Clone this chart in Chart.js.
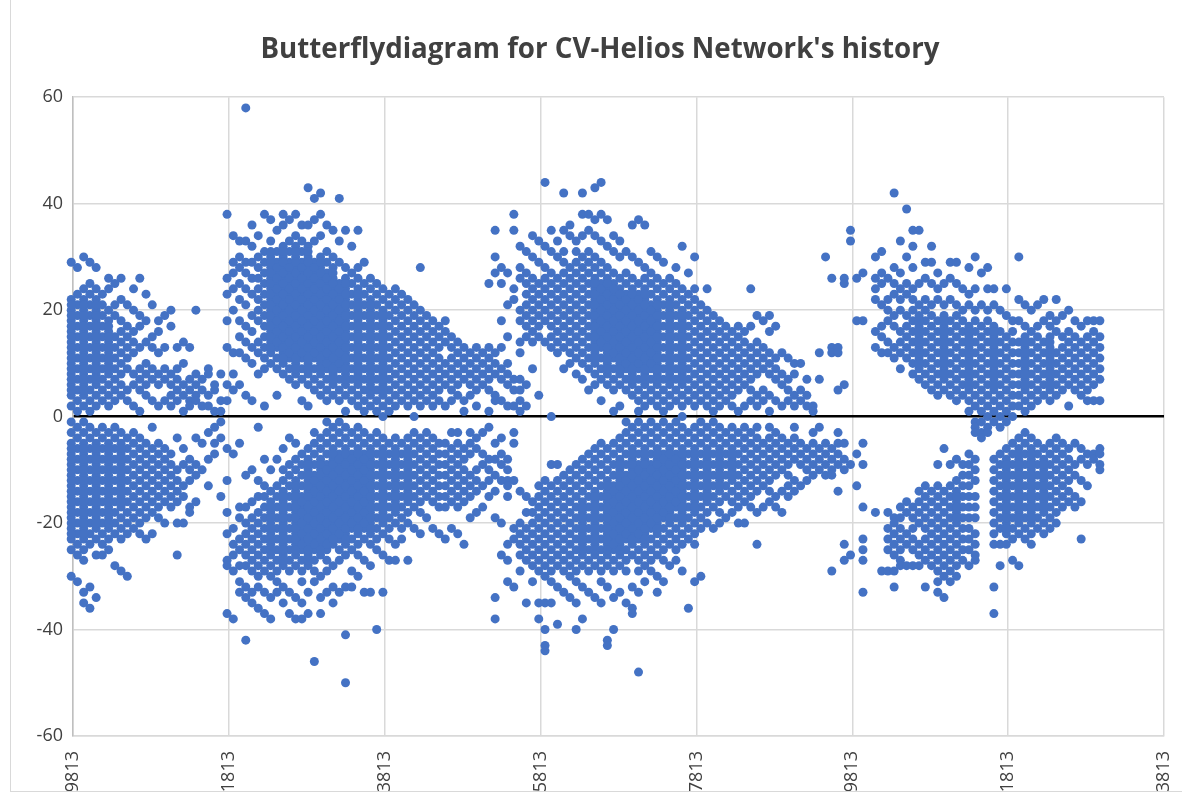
<!DOCTYPE html>
<html>
<head>
<meta charset="utf-8">
<script src="https://cdn.jsdelivr.net/npm/chart.js@4"></script>
<style>
  html, body { margin: 0; padding: 0; background: #fff; overflow: hidden; }
  #frame { position: absolute; left: 10px; top: 0; width: 1171px; height: 791px; border: 1px solid #d9d9d9; border-top: 0; }
  #chart { position: absolute; left: 0; top: 0; }
</style>
</head>
<body>
<div id="frame"></div>
<canvas id="chart" width="1182" height="791"></canvas>
<script>
const titleText = "Butterflydiagram for CV-Helios Network's history";
const xTicks = [19813, 21813, 23813, 25813, 27813, 29813, 31813, 33813];

const cycle1North = [
  [19790,29,22,20,18,16,14,12,10,8,6,4,2],
  [19870,28,23,21,19,17,15,13,11,9,7,5,3,1],
  [19950,30,24,22,20,18,16,14,12,10,8,6,4,2],
  [20030,29,25,23,21,19,17,15,13,11,9,7,5,3,1],
  [20110,28,24,22,20,18,16,14,12,10,8,6,4,2],
  [20190,23,21,19,17,15,13,11,9,7,5,3],
  [20270,26,24,20,18,16,14,12,10,8,6,4,2],
  [20350,25,21,19,15,13,11,9,7,5,3],
  [20430,26,22,18,16,14,12,10,8,6,4],
  [20510,21,17,15,13,11,9,5,3],
  [20590,24,20,16,14,12,8,6,2],
  [20670,26,19,17,13,9,7,5,1],
  [20750,23,18,14,10,8,6,4],
  [20830,21,15,13,9,7,3],
  [20910,18,16,12,8,6,2],
  [20990,19,13,9,7,3],
  [21070,20,17,8,6,4,2],
  [21150,13,9,7,5,3],
  [21230,14,10,6,4,1],
  [21310,13,7,5,3,2],
  [21390,20,8,6,4,3],
  [21470,7,5,2],
  [21550,9,8,4,2],
  [21630,6,5,1],
  [21710,8,3,1]
];
const cycle1South = [
  [19790,-1,-3,-5,-7,-9,-11,-13,-15,-17,-19,-21,-23,-25,-30],
  [19870,-2,-4,-6,-8,-10,-12,-14,-16,-18,-20,-22,-24,-26,-31],
  [19950,-1,-3,-5,-7,-9,-11,-13,-15,-17,-19,-21,-23,-25,-27,-33,-35],
  [20030,-2,-4,-6,-8,-10,-12,-14,-16,-18,-20,-22,-24,-32,-36],
  [20110,-3,-5,-7,-9,-11,-13,-15,-17,-19,-21,-23,-26,-34],
  [20190,-2,-4,-6,-8,-10,-12,-14,-16,-18,-20,-22,-24,-26],
  [20270,-3,-5,-7,-9,-11,-13,-15,-17,-19,-21,-23,-25],
  [20350,-2,-4,-6,-8,-10,-12,-14,-16,-18,-20,-22,-28],
  [20430,-3,-5,-7,-9,-11,-13,-15,-17,-19,-21,-23,-29],
  [20510,-4,-6,-8,-10,-12,-14,-16,-18,-20,-22,-30],
  [20590,-3,-5,-7,-9,-11,-13,-15,-17,-19,-21],
  [20670,-4,-6,-8,-10,-12,-14,-16,-18,-20,-22],
  [20750,-5,-7,-9,-11,-13,-15,-17,-19,-23],
  [20830,-2,-6,-8,-10,-12,-14,-16,-18,-22],
  [20910,-5,-7,-9,-11,-13,-15,-17,-19],
  [20990,-6,-8,-10,-12,-14,-16,-20],
  [21070,-7,-9,-11,-13,-15,-17],
  [21150,-4,-10,-12,-14,-16,-20,-26],
  [21230,-6,-9,-13,-15,-20],
  [21310,-8,-10,-12,-17,-18],
  [21390,-4,-9,-11,-16],
  [21470,-5,-10],
  [21550,-3,-8,-13],
  [21630,-2,-5,-7],
  [21710,-1,-4,-15]
];

const cycle2North = [
  [21790,38,26,23,18,13,6,3],
  [21870,34,29,27,24,20,12,8,5],
  [21950,33,30,28,25,22,18,15,12,6],
  [22030,58,33,29,27,24,21,17,14,11,4],
  [22110,36,32,29,26,23,19,16,13,10,3],
  [22190,34,30,28,26,24,22,20,18,14,12,8],
  [22270,38,31,29,27,25,23,21,19,17,15,13,11,9,2],
  [22350,37,33,30,28,26,24,22,20,18,16,14,12,10],
  [22430,35,31,29,27,25,23,21,19,17,15,13,11,9,4],
  [22510,38,36,32,30,28,26,24,22,20,18,16,14,12,10,8],
  [22590,37,33,31,29,27,25,23,21,19,17,15,13,11,9,7],
  [22670,38,34,32,30,28,26,24,22,20,18,16,14,12,10,8,6],
  [22750,36,33,31,29,27,25,23,21,19,17,15,13,11,9,7,3],
  [22830,43,36,32,30,28,26,24,22,20,18,16,14,12,10,8,6,2],
  [22910,41,37,33,29,27,25,23,21,19,17,15,13,11,9,7,5],
  [22990,42,38,34,30,28,26,24,22,20,18,16,14,12,10,8,6,4],
  [23070,36,31,29,27,25,23,21,19,17,15,13,11,9,7,5,3],
  [23150,35,30,28,26,24,22,20,18,16,14,12,10,8,6,4],
  [23230,41,33,29,25,23,21,19,17,15,13,11,9,7,5,3],
  [23310,35,28,26,24,22,20,18,16,14,12,10,8,6,4,1],
  [23390,32,27,25,23,21,19,17,15,13,11,9,7,5,3],
  [23470,35,28,26,24,22,20,18,16,14,12,10,8,6,4,2],
  [23550,29,25,23,21,19,17,15,13,11,9,7,5,3,1],
  [23630,26,24,22,20,18,16,14,12,10,8,6,4,2],
  [23710,25,23,21,19,17,15,13,11,9,7,5,3,1],
  [23790,24,22,20,18,16,14,12,10,8,6,4,2,0],
  [23870,23,21,19,17,15,13,11,9,7,5,3,1],
  [23950,24,22,20,18,16,14,12,10,8,6,4,2],
  [24030,23,21,19,17,15,13,11,9,7,5,3],
  [24110,22,20,18,16,14,12,10,8,6,4,2],
  [24190,21,19,17,15,13,11,9,7,5,3,0],
  [24270,28,20,18,16,14,12,10,8,6,4,2],
  [24350,19,17,15,13,11,9,7,5,3],
  [24430,18,16,14,12,10,8,6,4,2],
  [24510,17,15,13,11,9,7,5,3],
  [24590,18,16,14,10,8,6,2],
  [24670,15,13,11,9,7,5,3],
  [24750,14,12,10,8,6,4],
  [24830,13,11,9,7,3,1],
  [24910,12,10,8,6,4],
  [24990,13,11,9,7,5,2],
  [25070,12,10,8,6],
  [25150,13,11,9,7,5,1],
  [25230,12,10,8,4,3],
  [25310,13,9,7,3],
  [25390,10,8,6,2],
  [25470,7,5,2],
  [25550,7,5,3,1],
  [25630,6,2]
];
const cycle2South = [
  [21790,-6,-12,-18,-22,-27,-28,-37],
  [21870,-7,-21,-24,-26,-29,-38],
  [21950,-5,-17,-19,-23,-25,-28,-31,-33],
  [22030,-11,-17,-20,-22,-24,-26,-28,-32,-34,-42],
  [22110,-10,-16,-19,-21,-23,-25,-27,-29,-33,-35],
  [22190,-2,-12,-15,-18,-20,-22,-24,-26,-28,-30,-32,-36],
  [22270,-8,-13,-15,-17,-19,-21,-23,-25,-27,-29,-33,-37],
  [22350,-10,-14,-16,-18,-20,-22,-24,-26,-28,-30,-34,-38],
  [22430,-8,-13,-15,-17,-19,-21,-23,-25,-27,-29,-31,-33],
  [22510,-6,-10,-12,-14,-16,-18,-20,-22,-24,-26,-28,-32,-35],
  [22590,-4,-9,-11,-13,-15,-17,-19,-21,-23,-25,-27,-29,-33,-37],
  [22670,-5,-8,-10,-12,-14,-16,-18,-20,-22,-24,-26,-28,-34,-38],
  [22750,-7,-9,-11,-13,-15,-17,-19,-21,-23,-25,-27,-29,-31,-35,-38],
  [22830,-6,-8,-10,-12,-14,-16,-18,-20,-22,-24,-26,-28,-33,-37],
  [22910,-3,-5,-7,-9,-11,-13,-15,-17,-19,-21,-23,-25,-27,-29,-31,-46],
  [22990,-4,-6,-8,-10,-12,-14,-16,-18,-20,-22,-24,-26,-30,-34,-37],
  [23070,-1,-3,-5,-7,-9,-11,-13,-15,-17,-19,-21,-23,-25,-27,-29,-33],
  [23150,-2,-4,-6,-8,-10,-12,-14,-16,-18,-20,-22,-24,-28,-32,-35],
  [23230,-1,-3,-5,-7,-9,-11,-13,-15,-17,-19,-21,-23,-25,-27,-33],
  [23310,-2,-4,-6,-8,-10,-12,-14,-16,-18,-20,-22,-24,-26,-32,-41,-50],
  [23390,-3,-5,-7,-9,-11,-13,-15,-17,-19,-21,-23,-25,-29,-32],
  [23470,-2,-4,-6,-8,-10,-12,-14,-16,-18,-20,-22,-24,-26,-30],
  [23550,-3,-5,-7,-9,-11,-13,-15,-17,-19,-21,-23,-27,-33],
  [23630,-4,-6,-8,-10,-12,-14,-16,-18,-20,-22,-24,-28,-33],
  [23710,-3,-5,-7,-9,-11,-13,-15,-17,-19,-21,-23,-25,-40],
  [23790,-4,-6,-8,-10,-12,-14,-16,-18,-20,-22,-26,-33],
  [23870,-5,-7,-9,-11,-13,-15,-17,-19,-21,-23,-27],
  [23950,-4,-6,-8,-10,-12,-14,-16,-18,-20,-24,-27],
  [24030,-5,-7,-9,-11,-13,-15,-17,-19,-21,-23],
  [24110,-4,-6,-8,-10,-12,-14,-16,-18,-20,-27],
  [24190,-3,-5,-7,-9,-11,-13,-15,-17,-21],
  [24270,-4,-6,-8,-10,-12,-14,-16,-18,-22],
  [24350,-3,-5,-7,-9,-11,-13,-15,-19],
  [24430,-4,-6,-8,-10,-12,-14,-16,-21],
  [24510,-5,-7,-9,-11,-13,-15,-17,-22],
  [24590,-5,-7,-9,-11,-13,-15,-17,-23],
  [24670,-3,-6,-8,-10,-12,-14,-16,-21],
  [24750,-3,-5,-7,-9,-11,-13,-15,-17,-22],
  [24830,-6,-8,-10,-12,-14,-16,-24],
  [24910,-3,-5,-7,-11,-13,-15,-19],
  [24990,-4,-6,-10,-12,-14,-18],
  [25070,-3,-7,-9,-13,-17],
  [25150,-2,-8,-10,-12,-15],
  [25230,-5,-8,-11,-14,-19],
  [25310,-4,-7,-9,-12,-20],
  [25390,-8,-10,-12,-13],
  [25470,-3,-5,-12]
];

const cycle3North = [
  [25150,25],
  [25230,35,30,27],
  [25310,28,25,18],
  [25390,27,21,15],
  [25470,38,35,24,22],
  [25550,32,28,26,20,18,14,12],
  [25630,31,27,25,23,21,19,17,15],
  [25710,34,30,26,24,22,20,18,16,14,9],
  [25790,33,29,25,23,21,19,17,15,4],
  [25870,44,32,28,26,24,22,20,18,14],
  [25950,35,31,27,25,23,21,19,17,15,13,0],
  [26030,33,30,26,24,22,20,18,16,14,12],
  [26110,42,35,31,29,27,25,23,21,19,17,15,13,9],
  [26190,36,34,28,26,24,22,20,18,16,14,12,10],
  [26270,33,31,29,27,25,23,21,19,17,15,13,11,8],
  [26350,42,38,34,30,28,26,24,22,20,18,16,14,12,10,7],
  [26430,38,35,31,29,27,25,23,21,19,17,15,13,11,9,5],
  [26510,43,37,34,30,28,26,24,22,20,18,16,14,12,10,8,6],
  [26590,44,38,33,29,27,25,23,21,19,17,15,13,11,9,7,3],
  [26670,37,32,28,26,24,22,20,18,16,14,12,10,8,6],
  [26750,34,31,27,25,23,21,19,17,15,13,11,9,7,5,1],
  [26830,33,30,26,24,22,20,18,16,14,12,10,8,6,2],
  [26910,31,27,25,23,21,19,17,15,13,11,9,7,5],
  [26990,36,30,26,24,22,20,18,16,14,12,10,8,6,4],
  [27070,37,29,25,23,21,19,17,15,13,11,9,7,5,3,1],
  [27150,36,28,26,24,22,20,18,16,14,12,10,8,6,4,2],
  [27230,31,27,25,23,21,19,17,15,13,11,9,7,5,3],
  [27310,30,26,24,22,20,18,16,14,12,10,8,6,4,2],
  [27390,29,25,23,21,19,17,15,13,11,9,7,5,3,1],
  [27470,26,24,22,20,18,16,14,12,10,8,6,4,2],
  [27550,28,25,23,21,19,17,15,13,11,9,7,5,3],
  [27630,32,24,22,20,18,16,14,12,10,8,6,4,2,0],
  [27710,27,23,21,19,17,15,13,11,9,7,5,3],
  [27790,30,24,22,20,18,16,14,12,10,8,6,4,2],
  [27870,21,19,17,15,13,11,9,7,5,3],
  [27950,24,20,18,16,14,12,10,8,6,4,2],
  [28030,19,17,15,13,11,9,7,5,3,1],
  [28110,18,16,14,12,10,8,6,4,2],
  [28190,17,15,13,11,9,7,5,3],
  [28270,16,14,12,10,8,6,4,2],
  [28350,17,15,13,11,9,7,5,1],
  [28430,16,14,12,10,8,6,2],
  [28510,24,17,13,11,9,7,5,3],
  [28590,19,14,12,10,8,4,2],
  [28670,18,13,11,9,5,3],
  [28750,19,16,12,10,8,4,1],
  [28830,17,11,9,7,3],
  [28910,12,8,6,2],
  [28990,11,7,5,3],
  [29070,10,8,4,2],
  [29150,10,5,3],
  [29230,7,4,2],
  [29310,2,1],
  [29390,12,7],
  [29470,30],
  [29550,26,13,12],
  [29630,13,12,5]
];
const cycle3South = [
  [25230,-38,-34],
  [25310,-26],
  [25390,-24,-27,-31,-15],
  [25470,-21,-23,-32],
  [25550,-14,-20,-22,-24,-26,-29],
  [25630,-15,-18,-21,-23,-25,-27,-35],
  [25710,-16,-18,-20,-22,-24,-26,-28,-31],
  [25790,-13,-15,-17,-19,-21,-23,-25,-27,-29,-35,-38],
  [25870,-12,-14,-16,-18,-20,-22,-24,-26,-28,-30,-35,-40,-43,-44],
  [25950,-9,-13,-15,-17,-19,-21,-23,-25,-27,-29,-31,-35],
  [26030,-9,-12,-14,-16,-18,-20,-22,-24,-26,-28,-32,-39],
  [26110,-11,-13,-15,-17,-19,-21,-23,-25,-27,-29,-33],
  [26190,-10,-12,-14,-16,-18,-20,-22,-24,-26,-28,-30,-34],
  [26270,-9,-11,-13,-15,-17,-19,-21,-23,-25,-27,-29,-31,-35,-40],
  [26350,-8,-10,-12,-14,-16,-18,-20,-22,-24,-26,-28,-32,-38],
  [26430,-7,-9,-11,-13,-15,-17,-19,-21,-23,-25,-27,-29,-33],
  [26510,-6,-8,-10,-12,-14,-16,-18,-20,-22,-24,-26,-28,-34],
  [26590,-5,-7,-9,-11,-13,-15,-17,-19,-21,-23,-25,-27,-29,-31,-35],
  [26670,-6,-8,-10,-12,-14,-16,-18,-20,-22,-24,-26,-28,-32,-42,-43],
  [26750,-5,-7,-9,-11,-13,-15,-17,-19,-21,-23,-25,-27,-29,-34,-40],
  [26830,-4,-6,-8,-10,-12,-14,-16,-18,-20,-22,-24,-26,-28,-33],
  [26910,-1,-3,-5,-7,-9,-11,-13,-15,-17,-19,-21,-23,-25,-27,-29,-35],
  [26990,-2,-4,-6,-8,-10,-12,-14,-16,-18,-20,-22,-24,-26,-32,-36,-37],
  [27070,-1,-3,-5,-7,-9,-11,-13,-15,-17,-19,-21,-23,-25,-27,-29,-33,-48],
  [27150,-2,-4,-6,-8,-10,-12,-14,-16,-18,-20,-22,-24,-26,-28,-31],
  [27230,-1,-3,-5,-7,-9,-11,-13,-15,-17,-19,-21,-23,-25,-27,-29],
  [27310,-2,-4,-6,-8,-10,-12,-14,-16,-18,-20,-22,-24,-26,-30,-33],
  [27390,-1,-3,-5,-7,-9,-11,-13,-15,-17,-19,-21,-23,-25,-27,-31],
  [27470,-2,-4,-6,-8,-10,-12,-14,-16,-18,-20,-22,-24,-28],
  [27550,-1,-3,-5,-7,-9,-11,-13,-15,-17,-19,-21,-23,-25,-27],
  [27630,-2,-4,-6,-8,-10,-12,-14,-16,-18,-20,-22,-24,-29],
  [27710,-3,-5,-7,-9,-11,-13,-15,-17,-19,-21,-23,-36],
  [27790,-2,-4,-6,-8,-10,-12,-14,-16,-18,-20,-22,-24,-31],
  [27870,-1,-3,-5,-7,-9,-11,-13,-15,-17,-19,-21,-30],
  [27950,-2,-4,-6,-8,-10,-12,-14,-16,-18,-20],
  [28030,-1,-3,-5,-7,-9,-11,-13,-15,-17,-21],
  [28110,-2,-4,-6,-8,-10,-12,-14,-16,-18,-20],
  [28190,-3,-5,-7,-9,-11,-13,-15,-19],
  [28270,-2,-4,-6,-8,-10,-12,-14,-16,-18],
  [28350,-3,-5,-7,-9,-11,-13,-15,-17,-20],
  [28430,-2,-4,-6,-8,-10,-12,-14,-16,-20],
  [28510,-3,-5,-7,-9,-11,-13,-15,-17],
  [28590,-2,-4,-6,-8,-10,-12,-14,-18,-24],
  [28670,-5,-7,-9,-11,-13,-17],
  [28750,-2,-4,-6,-8,-10,-12,-14,-16],
  [28830,-3,-5,-7,-9,-11,-15,-17],
  [28910,-4,-6,-8,-10,-14,-18],
  [28990,-5,-7,-9,-11,-13,-15],
  [29070,-2,-4,-6,-8,-12,-14],
  [29150,-5,-7,-9,-13],
  [29230,-6,-8,-10,-12],
  [29310,-3,-5,-7,-9,-11],
  [29390,-2,-6,-8,-10],
  [29470,-5,-7,-9,-11],
  [29550,-6,-8,-10,-11,-29],
  [29630,-3,-5,-7,-9,-14],
  [29710,-5,-8,-10,-24,-27],
  [29790,-9,-26],
  [29870,-7,-13],
  [29950,-5,-9,-17,-23,-25,-27,-33]
];

const cycle4North = [
  [29710,26,25,6],
  [29790,35,33],
  [29870,26,18],
  [29950,27,18],
  [30110,30,26,24,22,16,13],
  [30190,31,27,25,21,17,15,12],
  [30270,26,22,20,18,14,12],
  [30350,42,28,25,23,19,17,13,11],
  [30430,33,27,24,22,20,16,14,12,9],
  [30510,39,30,25,23,19,17,15,13,11],
  [30590,35,32,28,24,22,20,18,16,14,12,10,8],
  [30670,35,25,21,19,17,15,13,11,9,7],
  [30750,29,26,22,20,18,16,14,12,10,8,6],
  [30830,32,29,25,21,19,17,15,13,11,9,7,5],
  [30910,27,24,22,18,16,14,12,10,8,6,4],
  [30990,25,21,19,17,15,13,11,9,7,5],
  [31070,29,26,22,18,16,14,12,10,8,6,4],
  [31150,29,25,21,19,17,15,13,11,9,7,5,3],
  [31230,24,20,18,16,14,12,10,8,6,4],
  [31310,28,23,21,17,15,13,11,9,7,5,3,1],
  [31390,30,24,20,18,16,14,12,10,8,6,4,2,-1,-2,-3],
  [31470,27,21,17,15,13,11,9,7,5,3,1,-1,-3,-4],
  [31550,28,24,20,18,16,14,12,10,8,6,4,2,0,-2,-3],
  [31630,24,21,17,15,13,11,9,7,5,3,1,-1],
  [31710,20,16,14,12,10,8,6,4,2,0,-2],
  [31790,24,19,15,13,11,9,7,5,3,1,-1],
  [31870,18,16,14,12,10,8,6,4,2,0],
  [31950,30,22,18,14,12,10,8,6,4,2],
  [32030,21,17,15,13,11,9,7,5,3,1],
  [32110,20,16,14,12,10,8,6,4,2],
  [32190,21,17,15,13,11,9,7,5,3],
  [32270,22,18,14,12,10,8,6,4],
  [32350,19,17,15,13,11,9,7,5,3],
  [32430,22,18,16,12,10,8,6,4],
  [32510,19,15,13,11,9,7,5],
  [32590,20,16,14,12,10,8,6,2],
  [32670,18,15,13,11,9,7,5],
  [32750,17,14,12,10,8,6,4],
  [32830,18,15,13,11,9,7,5,3],
  [32910,18,16,14,12,10,8,6,3],
  [32990,18,15,13,11,9,7,3]
];
const cycle4South = [
  [30110,-18],
  [30190,-29],
  [30270,-18,-21,-23,-25,-29],
  [30350,-19,-20,-22,-24,-26,-29,-32],
  [30430,-17,-19,-21,-23,-25,-27,-28],
  [30510,-16,-18,-22,-24,-28],
  [30590,-17,-19,-21,-23,-25,-28],
  [30670,-14,-16,-18,-20,-24,-26,-28],
  [30750,-13,-15,-17,-19,-21,-23,-25,-27,-32],
  [30830,-14,-16,-18,-20,-22,-24,-26,-28],
  [30910,-9,-13,-15,-17,-19,-21,-23,-25,-27,-29,-31,-33],
  [30990,-6,-14,-16,-18,-20,-22,-24,-26,-28,-30,-34],
  [31070,-9,-13,-15,-17,-19,-21,-23,-25,-27,-29,-31],
  [31150,-8,-12,-14,-16,-18,-20,-22,-24,-26,-28,-30],
  [31230,-9,-11,-13,-15,-17,-19,-21,-23,-25,-27],
  [31310,-7,-9,-11,-13,-15,-17,-19,-21,-23,-25,-28],
  [31390,-8,-10,-12,-15,-17,-19,-22,-24,-26,-27],
  [31630,-8,-10,-12,-14,-16,-18,-20,-22,-24,-32,-37],
  [31710,-7,-9,-11,-13,-15,-17,-19,-21,-24,-28],
  [31790,-6,-8,-10,-12,-14,-16,-18,-20,-22,-24],
  [31870,-5,-7,-9,-11,-13,-15,-17,-19,-21,-23,-27],
  [31950,-4,-6,-8,-10,-12,-14,-16,-18,-20,-22,-28],
  [32030,-3,-5,-7,-9,-11,-13,-15,-17,-19,-21,-23],
  [32110,-4,-6,-8,-10,-12,-14,-16,-18,-20,-22,-24],
  [32190,-5,-7,-9,-11,-13,-15,-17,-19,-21],
  [32270,-6,-8,-10,-12,-14,-16,-18,-20,-22],
  [32350,-5,-7,-9,-11,-13,-15,-17,-19,-21],
  [32430,-4,-6,-8,-10,-12,-14,-16,-18,-20],
  [32510,-5,-7,-9,-11,-13,-15,-17],
  [32590,-6,-8,-10,-12,-14,-16],
  [32670,-5,-9,-11,-15,-17],
  [32750,-6,-8,-12,-16,-23],
  [32830,-7,-9,-13],
  [32910,-7,-8],
  [32990,-6,-7,-9,-10]
];

// extra readings where the marks overlap into solid areas
const denseNorth = [
  [19790,21,19,17,15,13,11,9,7,5],
  [19950,21,19,17,15,13,11,9,7,5],
  [20110,21,19,17,15,13,11,9,7],
  [20270,17,15,13,11,9],
  [22350,31,29,27,25,23,21,19,17,15,13],
  [22430,28,26,24,22,20,18,16,14],
  [22510,31,29,27,25,23,21,19,17,15,13,11],
  [22590,28,26,24,22,20,18,16,14,12],
  [22670,31,29,27,25,23,21,19,17,15,13,11,9],
  [22750,28,26,24,22,20,18,16,14,12],
  [22830,31,29,27,25,23,21,19,17,15,13,11,9],
  [22910,28,26,24,22,20,18,16,14,12],
  [22990,29,27,25,23,21,19,17,15,13,11,9],
  [23070,26,24,22,20,18,16,14,12,10],
  [23150,27,25,23,21,19,17,15,13,11,9,7],
  [23230,24,22,20,18,16,14,12,10],
  [23310,25,23,21,19,17,15,13,11,9,7],
  [23470,23,21,19,17,15,13,11,9,7],
  [23630,21,19,17,15,13,11,9,7,5],
  [23790,19,17,15,13,11,9,7,5],
  [26510,25,23,21,19,17,15,13,11],
  [26590,24,22,20,18,16,14],
  [26670,25,23,21,19,17,15,13,11,9],
  [26750,24,22,20,18,16,14,12],
  [26830,23,21,19,17,15,13,11,9],
  [26910,22,20,18,16,14,12,10],
  [26990,23,21,19,17,15,13,11,9,7],
  [27070,22,20,18,16,14,12,10],
  [27150,23,21,19,17,15,13,11,9,7],
  [27230,20,18,16,14,12,10],
  [27310,21,19,17,15,13,11,9,7],
  [27470,21,19,17,15,13,11,9,7],
  [27630,19,17,15,13,11,9,7],
  [30670,18,16,14,12,10],
  [30990,18,16,14,12,10,8],
  [31310,16,14,12,10,8,6],
  [31630,16,14,12,10,8,6],
  [32030,14,12,10,8,6],
  [32350,14,12,10,8,6]
];
const denseSouth = [
  [19790,-6,-8,-10,-12,-14,-16,-18,-20,-22],
  [19950,-6,-8,-10,-12,-14,-16,-18,-20,-22],
  [20110,-6,-8,-10,-12,-14,-16,-18,-20],
  [20270,-6,-8,-10,-12,-14,-16,-18,-20],
  [20430,-6,-8,-10,-12,-14,-16],
  [22350,-17,-19,-21,-23,-25],
  [22510,-15,-17,-19,-21,-23,-25,-27],
  [22670,-13,-15,-17,-19,-21,-23,-25],
  [22750,-16,-18,-20,-22,-24],
  [22830,-9,-11,-13,-15,-17,-19,-21,-23,-25,-27],
  [22910,-12,-14,-16,-18,-20,-22,-24],
  [22990,-9,-11,-13,-15,-17,-19,-21,-23,-25],
  [23070,-10,-12,-14,-16,-18,-20,-22,-24],
  [23150,-7,-9,-11,-13,-15,-17,-19,-21,-23],
  [23230,-8,-10,-12,-14,-16,-18,-20,-22],
  [23310,-7,-9,-11,-13,-15,-17,-19,-21,-23],
  [23390,-8,-10,-12,-14,-16,-18,-20],
  [23470,-7,-9,-11,-13,-15,-17,-19,-21],
  [23550,-8,-10,-12,-14,-16,-18,-20],
  [23630,-7,-9,-11,-13,-15,-17,-19,-21],
  [23790,-7,-9,-11,-13,-15,-17,-19],
  [23950,-7,-9,-11,-13,-15,-17],
  [24110,-7,-9,-11,-13,-15],
  [26350,-17,-19,-21,-23,-25],
  [26510,-15,-17,-19,-21,-23,-25],
  [26670,-13,-15,-17,-19,-21,-23,-25],
  [26750,-14,-16,-18,-20,-22,-24],
  [26830,-9,-11,-13,-15,-17,-19,-21,-23,-25],
  [26910,-12,-14,-16,-18,-20,-22],
  [26990,-7,-9,-11,-13,-15,-17,-19,-21,-23],
  [27070,-10,-12,-14,-16,-18,-20,-22],
  [27150,-7,-9,-11,-13,-15,-17,-19,-21,-23],
  [27230,-10,-12,-14,-16,-18,-20],
  [27310,-7,-9,-11,-13,-15,-17,-19,-21],
  [27390,-8,-10,-12,-14,-16,-18],
  [27470,-7,-9,-11,-13,-15,-17,-19],
  [27550,-8,-10,-12,-14,-16],
  [27630,-7,-9,-11,-13,-15,-17,-19],
  [27790,-7,-9,-11,-13,-15,-17],
  [27950,-7,-9,-11,-13,-15],
  [28110,-7,-9,-11,-13],
  [28270,-7,-9,-11],
  [31150,-15,-17,-19],
  [31790,-9,-11,-13,-15,-17,-19,-21],
  [31950,-7,-9,-11,-13,-15,-17,-19],
  [32110,-7,-9,-11,-13,-15,-17,-19],
  [32270,-9,-11,-13,-15,-17]
];

const allRows = [cycle1North, cycle1South, cycle2North, cycle2South, cycle3North, cycle3South, cycle4North, cycle4South, denseNorth, denseSouth];
const points = allRows.flat().flatMap(([x, ...ys]) => ys.map(y => ({ x, y })));

new Chart(document.getElementById("chart"), {
  type: "scatter",
  data: {
    datasets: [{
      data: points,
      backgroundColor: "#4472c4",
      borderWidth: 0,
      pointRadius: 4.5,
      clip: false
    }]
  },
  options: {
    responsive: false,
    animation: false,
    layout: { padding: { left: 36, right: 18, top: 0, bottom: 0 } },
    plugins: {
      legend: { display: false },
      tooltip: { enabled: false },
      title: {
        display: true,
        text: titleText,
        color: "#404040",
        font: { family: "'Open Sans'", size: 27.7, weight: "bold" },
        padding: { top: 33, bottom: 31 }
      }
    },
    scales: {
      x: {
        type: "linear",
        min: 19813,
        max: 33813,
        afterBuildTicks: scale => { scale.ticks = xTicks.map(value => ({ value })); },
        afterFit: scale => {
          scale.height = 55;
          scale.paddingLeft = 0;
          scale.paddingRight = 0;
        },
        grid: { color: "#d9d9d9", lineWidth: 1.5, drawTicks: false },
        border: { color: "#d9d9d9", width: 1.5 },
        ticks: {
          autoSkip: false,
          minRotation: 90,
          maxRotation: 90,
          padding: 15,
          color: "#404040",
          font: { family: "'Open Sans'", size: 18 },
          callback: value => String(value)
        }
      },
      y: {
        min: -60,
        max: 60,
        afterFit: scale => { scale.width = 37; },
        grid: {
          color: ctx => ctx.tick.value === 0 ? "#000000" : "#d9d9d9",
          lineWidth: ctx => ctx.tick.value === 0 ? 2.5 : 1.5,
          drawTicks: false
        },
        border: { color: "#bfbfbf", width: 1.5 },
        ticks: {
          stepSize: 20,
          padding: 10,
          color: "#404040",
          font: { family: "'Open Sans'", size: 18 }
        }
      }
    }
  }
});
</script>
</body>
</html>
